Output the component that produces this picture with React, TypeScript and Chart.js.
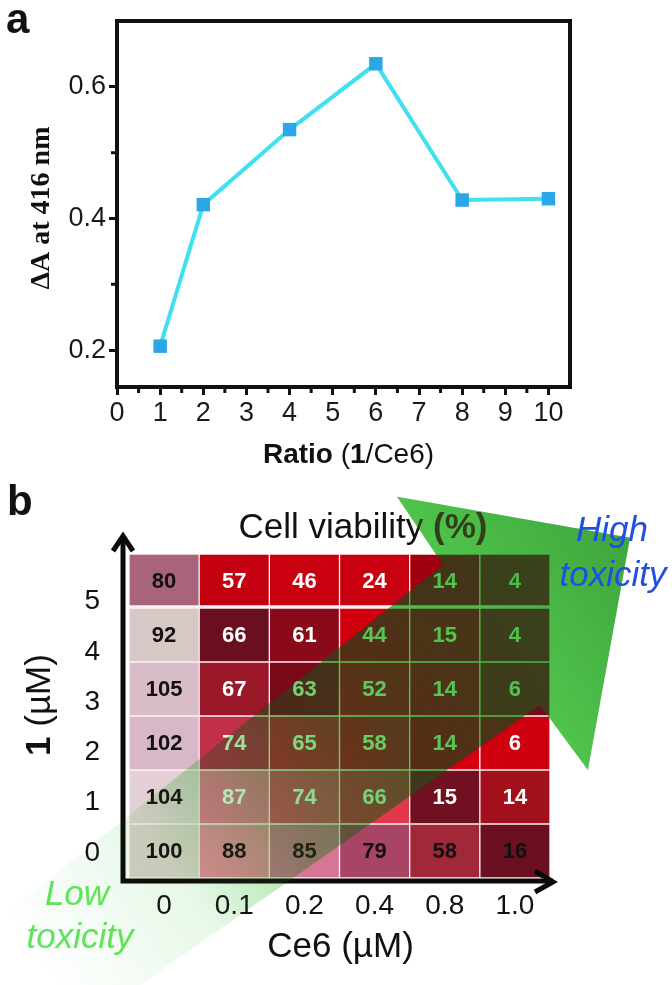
import React, { useEffect, useRef } from 'react';
import { Chart, registerables } from 'chart.js';

Chart.register(...registerables);

const FONT = '"Liberation Sans", Arial, Helvetica, sans-serif';
const SERIF = '"Liberation Serif", "Times New Roman", serif';
Chart.defaults.font.family = FONT;
Chart.defaults.color = '#111111';

// ---------------- Panel a data ----------------
const ratioValues = [1, 2, 4, 6, 8, 10];
const deltaAValues = [0.206, 0.421, 0.535, 0.635, 0.428, 0.43];
const ratioTickValues = [0, 1, 2, 3, 4, 5, 6, 7, 8, 9, 10];
const ratioMinorTicks = [0.5, 1.5, 2.5, 3.5, 4.5, 5.5, 6.5, 7.5, 8.5, 9.5];
const deltaTickValues = [0.2, 0.4, 0.6];
const deltaMinorTicks = [0.3, 0.5];

// ---------------- Panel b data ----------------
const ce6Labels = ['0', '0.1', '0.2', '0.4', '0.8', '1.0'];
const compound1Labels = ['0', '1', '2', '3', '4', '5'];
const viability0 = [100, 88, 85, 79, 58, 16];
const viability1 = [104, 87, 74, 66, 15, 14];
const viability2 = [102, 74, 65, 58, 14, 6];
const viability3 = [105, 67, 63, 52, 14, 6];
const viability4 = [92, 66, 61, 44, 15, 4];
const viability5 = [80, 57, 46, 24, 14, 4];
const viabilityRows = [viability0, viability1, viability2, viability3, viability4, viability5];

// ---------------- styles ----------------
const cellColors = [
  ['#dccfca', '#ee8c9e', '#d47694', '#a84464', '#a02838', '#6a1020'],
  ['#e2d0d4', '#f07a98', '#e8526a', '#e03848', '#701020', '#a2101c'],
  ['#d8b8c8', '#c03048', '#d82830', '#dc1420', '#d4000f', '#d0000f'],
  ['#d8bcc8', '#9a1828', '#7a0a1a', '#dc0a18', '#d4000f', '#6a0f20'],
  ['#d6c8c4', '#6a0f20', '#8a0a1a', '#d0000f', '#d0000f', '#6a0f20'],
  ['#a8647a', '#c2000f', '#c8000f', '#c8000f', '#a00010', '#6a0f20'],
];

// green arrow outline in heat-map cell units (x: column index, y: rows from bottom)
// order: shaft far-upper, shaft upper joint, head top-left, head right, head tip, shaft lower joint, shaft far-lower
const arrowOutline = [
  [-3.76, -2.22],
  [3.975, 5.8],
  [3.32, 7.06],
  [6.64, 6.3],
  [6.04, 2.0],
  [5.357, 3.204],
  [-2.91, -4.32],
];
const arrowFade = [[-1.75, -1.74], [4.66, 4.5]];
const fadeStops = [[0, 0], [0.3, 0.1], [0.45, 0.33], [0.6, 0.6], [0.75, 0.85], [0.92, 1], [1, 1]];
const headShade = [[3.32, 7.06], [5.28, 8.83]];

type Part = { text: string; bold?: boolean; italic?: boolean; family?: string };

function fontOf(p: Part, size: number) {
  return `${p.italic ? 'italic ' : ''}${p.bold ? 'bold ' : ''}${size}px ${p.family || FONT}`;
}

function drawParts(ctx: CanvasRenderingContext2D, parts: Part[], cx: number, cy: number, size: number) {
  let total = 0;
  const widths = parts.map((p) => {
    ctx.font = fontOf(p, size);
    const w = ctx.measureText(p.text).width;
    total += w;
    return w;
  });
  let x = cx - total / 2;
  ctx.textAlign = 'left';
  ctx.textBaseline = 'middle';
  parts.forEach((p, i) => {
    ctx.font = fontOf(p, size);
    ctx.fillText(p.text, x, cy);
    x += widths[i];
  });
}

const whiteBg = {
  id: 'whiteBg',
  beforeDraw(chart: any) {
    const { ctx, width, height } = chart;
    ctx.save();
    ctx.fillStyle = '#ffffff';
    ctx.fillRect(0, 0, width, height);
    ctx.restore();
  },
};

const panelAPlugin = {
  id: 'panelA',
  afterDraw(chart: any) {
    const { ctx } = chart;
    const { left, right, top, bottom } = chart.chartArea;
    const xs = chart.scales.x;
    const ys = chart.scales.y;
    ctx.save();
    ctx.strokeStyle = '#111111';
    ctx.lineWidth = 4;
    ctx.strokeRect(left, top, right - left, bottom - top);
    ctx.lineWidth = 3;
    ctx.beginPath();
    ratioMinorTicks.forEach((v) => {
      const x = xs.getPixelForValue(v);
      ctx.moveTo(x, bottom);
      ctx.lineTo(x, bottom + 6);
    });
    deltaMinorTicks.forEach((v) => {
      const y = ys.getPixelForValue(v);
      ctx.moveTo(left, y);
      ctx.lineTo(left - 6, y);
    });
    ctx.stroke();
    ctx.fillStyle = '#111111';
    drawParts(
      ctx,
      [
        { text: 'Ratio', bold: true },
        { text: ' (' },
        { text: '1', bold: true },
        { text: '/Ce6)' },
      ],
      (left + right) / 2 + 5,
      bottom + 68,
      28
    );
    ctx.save();
    ctx.translate(left - 75, (top + bottom) / 2 + 4);
    ctx.rotate(-Math.PI / 2);
    drawParts(ctx, [{ text: 'ΔA at 416 nm', bold: true, family: SERIF }], 0, 0, 28);
    ctx.restore();
    ctx.font = `bold 42px ${FONT}`;
    ctx.textAlign = 'left';
    ctx.textBaseline = 'alphabetic';
    ctx.fillText('a', 6, 33);
    ctx.restore();
  },
};

const panelBPlugin = {
  id: 'panelB',
  afterDatasetsDraw(chart: any) {
    const { ctx } = chart;
    ctx.save();
    ctx.font = `bold 22px ${FONT}`;
    ctx.textAlign = 'center';
    ctx.textBaseline = 'middle';
    viabilityRows.forEach((vals, r) => {
      const meta = chart.getDatasetMeta(r);
      meta.data.forEach((bar: any, c: number) => {
        const { x, y, base } = bar.getProps(['x', 'y', 'base'], true);
        ctx.fillStyle = r === 0 || c === 0 ? '#111111' : '#ffffff';
        ctx.fillText(String(vals[c]), x, (y + base) / 2 + 1);
      });
    });
    ctx.restore();
  },
  afterDraw(chart: any) {
    const { ctx } = chart;
    const { left, right, top, bottom } = chart.chartArea;
    const xs = chart.scales.x;
    const ys = chart.scales.y;
    const P = (v: number[]) => [xs.getPixelForValue(v[0]), ys.getPixelForValue(v[1])];
    ctx.save();

    // axis arrows
    const ax = left - 6;
    const ay = bottom + 3;
    ctx.strokeStyle = '#0a0a0a';
    ctx.lineWidth = 5;
    ctx.lineJoin = 'miter';
    ctx.beginPath();
    ctx.moveTo(ax, ay + 2.5);
    ctx.lineTo(ax, top - 17);
    ctx.moveTo(ax - 2.5, ay);
    ctx.lineTo(right + 3, ay);
    ctx.stroke();
    ctx.beginPath();
    ctx.moveTo(ax - 10, top - 3);
    ctx.lineTo(ax, top - 18);
    ctx.lineTo(ax + 10, top - 3);
    ctx.moveTo(right - 15, ay - 10);
    ctx.lineTo(right + 3, ay + 1);
    ctx.lineTo(right - 15, ay + 11);
    ctx.stroke();

    // titles
    ctx.fillStyle = '#111111';
    drawParts(ctx, [{ text: 'Cell viability ' }, { text: '(%)', bold: true }], left + 234, top - 26, 35);
    drawParts(ctx, [{ text: 'Ce6 (µM)' }], (left + right) / 2 + 1, bottom + 69, 35);
    ctx.save();
    ctx.translate(left - 89, (top + bottom) / 2 - 11);
    ctx.rotate(-Math.PI / 2);
    drawParts(ctx, [{ text: '1', bold: true }, { text: ' (µM)' }], 0, 0, 35);
    ctx.restore();
    ctx.font = `bold 42px ${FONT}`;
    ctx.textAlign = 'left';
    ctx.textBaseline = 'alphabetic';
    ctx.fillText('b', 7, 35);

    // green arrow overlay (single outline: shaft + head)
    const outline = () => {
      ctx.beginPath();
      arrowOutline.forEach((v, i) => {
        const [x, y] = P(v);
        if (i === 0) ctx.moveTo(x, y);
        else ctx.lineTo(x, y);
      });
      ctx.closePath();
    };
    const [s0, s1] = [P(arrowFade[0]), P(arrowFade[1])];
    const g1 = ctx.createLinearGradient(s0[0], s0[1], s1[0], s1[1]);
    const g2 = ctx.createLinearGradient(s0[0], s0[1], s1[0], s1[1]);
    fadeStops.forEach(([t, a]) => {
      g1.addColorStop(t, `rgba(50,220,84,${a})`);
      g2.addColorStop(t, `rgba(135,149,59,${0.35 * a})`);
    });
    ctx.globalCompositeOperation = 'multiply';
    outline();
    ctx.fillStyle = g1;
    ctx.fill();
    ctx.globalCompositeOperation = 'source-over';
    outline();
    ctx.fillStyle = g2;
    ctx.fill();
    // darker shading toward the head's right side
    const [h0, h1] = [P(headShade[0]), P(headShade[1])];
    const hg = ctx.createLinearGradient(h0[0], h0[1], h1[0], h1[1]);
    hg.addColorStop(0, 'rgba(30,100,30,0)');
    hg.addColorStop(1, 'rgba(30,100,30,0.32)');
    outline();
    ctx.fillStyle = hg;
    ctx.fill();

    // toxicity labels
    ctx.fillStyle = '#1f4fe6';
    drawParts(ctx, [{ text: 'High', italic: true }], right + 62, top - 23, 35);
    drawParts(ctx, [{ text: 'toxicity', italic: true }], right + 63, top + 22, 35);
    ctx.fillStyle = '#5fe35a';
    drawParts(ctx, [{ text: 'Low', italic: true }], left - 52, bottom + 17, 35);
    drawParts(ctx, [{ text: 'toxicity', italic: true }], left - 49, bottom + 60, 35);
    ctx.restore();
  },
};

export default function App() {
  const aRef = useRef<HTMLCanvasElement>(null);
  const bRef = useRef<HTMLCanvasElement>(null);

  useEffect(() => {
    const chartA = new Chart(aRef.current as HTMLCanvasElement, {
      type: 'line',
      data: {
        datasets: [
          {
            data: ratioValues.map((x, i) => ({ x, y: deltaAValues[i] })),
            borderColor: '#3fe0f0',
            borderWidth: 4,
            pointStyle: 'rect',
            pointRadius: 9.5,
            pointBackgroundColor: '#2ba7e8',
            pointBorderWidth: 0,
            tension: 0,
          } as any,
        ],
      },
      options: {
        responsive: false,
        animation: false,
        layout: { padding: { top: 21, right: 102, left: 0, bottom: 0 } },
        plugins: { legend: { display: false }, tooltip: { enabled: false } },
        scales: {
          x: {
            type: 'linear',
            min: 0,
            max: 10.5,
            afterBuildTicks: (s: any) => {
              s.ticks = ratioTickValues.map((v) => ({ value: v }));
            },
            afterFit: (s: any) => {
              s.height = 93;
            },
            grid: { drawOnChartArea: false, tickLength: 8, tickWidth: 3, tickColor: '#111111' },
            border: { display: false },
            ticks: { padding: 2, font: { size: 27 }, color: '#1a1a1a', maxRotation: 0, autoSkip: false, callback: (v: any) => String(v) },
          },
          y: {
            type: 'linear',
            min: 0.144,
            max: 0.7,
            afterBuildTicks: (s: any) => {
              s.ticks = deltaTickValues.map((v) => ({ value: v }));
            },
            afterFit: (s: any) => {
              s.width = 117;
            },
            grid: { drawOnChartArea: false, tickLength: 8, tickWidth: 3, tickColor: '#111111' },
            border: { display: false },
            ticks: { padding: 3, font: { size: 27 }, color: '#1a1a1a', callback: (v: any) => Number(v).toFixed(1) },
          },
        },
      } as any,
      plugins: [whiteBg, panelAPlugin],
    });

    const chartB = new Chart(bRef.current as HTMLCanvasElement, {
      type: 'bar',
      data: {
        labels: ce6Labels,
        datasets: viabilityRows.map((vals, r) => ({
          label: compound1Labels[r],
          data: vals.map(() => 1),
          backgroundColor: cellColors[r],
          borderColor: '#fff0f4',
          borderWidth: r === 5 ? { top: 1, left: 1, right: 1, bottom: 3 } : 1,
          borderSkipped: false,
          barPercentage: 1,
          categoryPercentage: 1,
          stack: 'cells',
        })) as any,
      },
      options: {
        responsive: false,
        animation: false,
        layout: { padding: { top: 74, right: 122, left: 0, bottom: 0 } },
        plugins: { legend: { display: false }, tooltip: { enabled: false } },
        scales: {
          x: {
            type: 'category',
            stacked: true,
            grid: { display: false },
            border: { display: false },
            afterFit: (s: any) => {
              s.height = 107;
            },
            ticks: { padding: 3, font: { size: 28 }, color: '#111111', maxRotation: 0, autoSkip: false },
          },
          y: { type: 'linear', stacked: true, min: 0, max: 6, display: false },
          yLab: {
            type: 'linear',
            position: 'left',
            min: -0.5,
            max: 5.95,
            afterBuildTicks: (s: any) => {
              s.ticks = compound1Labels.map((_, i) => ({ value: i }));
            },
            afterFit: (s: any) => {
              s.width = 129;
            },
            grid: { display: false, drawTicks: false },
            border: { display: false },
            ticks: { padding: 29, font: { size: 28 }, color: '#111111', callback: (_v: any, i: number) => compound1Labels[i] },
          },
        },
      } as any,
      plugins: [whiteBg, panelBPlugin],
    });

    return () => {
      chartA.destroy();
      chartB.destroy();
    };
  }, []);

  return (
    <div style={{ position: 'absolute', left: 0, top: 0, width: 672, height: 985, background: '#ffffff' }}>
      <canvas ref={aRef} width={672} height={480} style={{ position: 'absolute', left: 0, top: 0, width: 672, height: 480 }} />
      <canvas ref={bRef} width={672} height={505} style={{ position: 'absolute', left: 0, top: 480, width: 672, height: 505 }} />
    </div>
  );
}
